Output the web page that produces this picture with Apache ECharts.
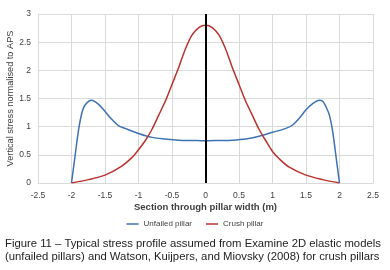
<!DOCTYPE html>
<html>
<head>
<meta charset="utf-8">
<script src="https://cdn.jsdelivr.net/npm/echarts@6/dist/echarts.min.js"></script>
<style>
  html, body { margin: 0; padding: 0; background: #fff; }
  #chart { width: 390px; height: 270px; }
</style>
</head>
<body>
<div id="chart"></div>
<script>
// 数据
var unfailedX = [-2, -1.95, -1.9, -1.85, -1.8, -1.7, -1.6, -1.5, -1.4, -1.3, -1.2, -1, -0.8, -0.6, -0.4, -0.2, 0,
  0.2, 0.4, 0.6, 0.8, 1, 1.2, 1.3, 1.4, 1.5, 1.6, 1.7, 1.75, 1.8, 1.85, 1.9, 1.95, 2];
var unfailedY = [0, 0.45, 0.9, 1.22, 1.38, 1.47, 1.4, 1.27, 1.13, 1.02, 0.97, 0.88, 0.81, 0.78, 0.76, 0.755, 0.75,
  0.755, 0.76, 0.78, 0.83, 0.9, 0.97, 1.03, 1.15, 1.3, 1.41, 1.47, 1.45, 1.35, 1.2, 0.9, 0.45, 0];
var crushX = [-2, -1.75, -1.5, -1.25, -1.1, -1, -0.9, -0.8, -0.7, -0.6, -0.5, -0.4, -0.3, -0.2, -0.1, 0,
  0.1, 0.2, 0.3, 0.4, 0.5, 0.6, 0.7, 0.8, 0.9, 1, 1.1, 1.25, 1.5, 1.75, 2];
var crushY = [0, 0.06, 0.14, 0.3, 0.45, 0.59, 0.75, 0.95, 1.2, 1.45, 1.75, 2.05, 2.38, 2.63, 2.76, 2.8,
  2.76, 2.63, 2.38, 2.05, 1.75, 1.45, 1.2, 0.95, 0.75, 0.56, 0.43, 0.28, 0.14, 0.06, 0];
var seriesNames = ['Unfailed pillar', 'Crush pillar'];
var captionLines = [
  'Figure 11 \u2013 Typical stress profile assumed from Examine 2D elastic models',
  '(unfailed pillars) and Watson, Kuijpers, and Miovsky (2008) for crush pillars'
];

function zip(xs, ys) {
  return xs.map(function (x, i) { return [x, ys[i]]; });
}

var chart = echarts.init(document.getElementById('chart'));
var option = {
  animation: false,
  textStyle: { fontFamily: 'Liberation Sans' },
  grid: { left: 38, right: 17, top: 14, bottom: 87, outerBoundsMode: 'none', containLabel: false },
  //图例
  legend: {
    data: seriesNames,
    top: 215,
    left: 'center',
    icon: 'rect',
    itemWidth: 12,
    itemHeight: 1.5,
    itemGap: 14,
    textStyle: { fontSize: 8, color: '#404040', fontFamily: 'Liberation Sans' }
  },
  // x轴
  xAxis: {
    type: 'value',
    min: -2.5,
    max: 2.5,
    interval: 0.5,
    name: 'Section through pillar width (m)',
    nameLocation: 'middle',
    nameGap: 19,
    nameMoveOverlap: false,
    nameTextStyle: { fontSize: 9.5, fontWeight: 'bold', color: '#404040' },
    axisLine: { show: true, onZero: false, lineStyle: { color: '#d9d9d9' } },
    axisTick: { show: false },
    axisLabel: { fontSize: 8.5, color: '#404040', margin: 8 },
    splitLine: { show: true, lineStyle: { color: '#d9d9d9' } }
  },
  // y轴
  yAxis: {
    type: 'value',
    min: 0,
    max: 3,
    interval: 0.5,
    name: 'Vertical stress normalised to APS',
    nameLocation: 'middle',
    nameGap: 23,
    nameMoveOverlap: false,
    nameTextStyle: { fontSize: 9.2, color: '#404040' },
    axisLine: { show: false },
    axisTick: { show: false },
    axisLabel: { fontSize: 8.5, color: '#404040', margin: 7 },
    splitLine: { show: true, lineStyle: { color: '#d9d9d9' } }
  },
  series: [
    {
      name: seriesNames[0],
      type: 'line',
      data: zip(unfailedX, unfailedY),
      smooth: 0.3,
      showSymbol: false,
      lineStyle: { color: '#3f72b0', width: 1.5 },
      itemStyle: { color: '#3f72b0' },
      markLine: {
        silent: true,
        symbol: 'none',
        label: { show: false },
        lineStyle: { color: '#000', width: 2, type: 'solid' },
        data: [{ xAxis: 0 }]
      }
    },
    {
      name: seriesNames[1],
      type: 'line',
      data: zip(crushX, crushY),
      smooth: 0.3,
      showSymbol: false,
      lineStyle: { color: '#b8332e', width: 1.5 },
      itemStyle: { color: '#b8332e' }
    }
  ],
  graphic: captionLines.map(function (t, i) {
    return {
      type: 'text',
      left: 5,
      top: 238 + i * 13,
      style: { text: t, fontSize: 11.3, fill: '#222', fontFamily: 'Liberation Sans' }
    };
  })
};
chart.setOption(option);
</script>
</body>
</html>
